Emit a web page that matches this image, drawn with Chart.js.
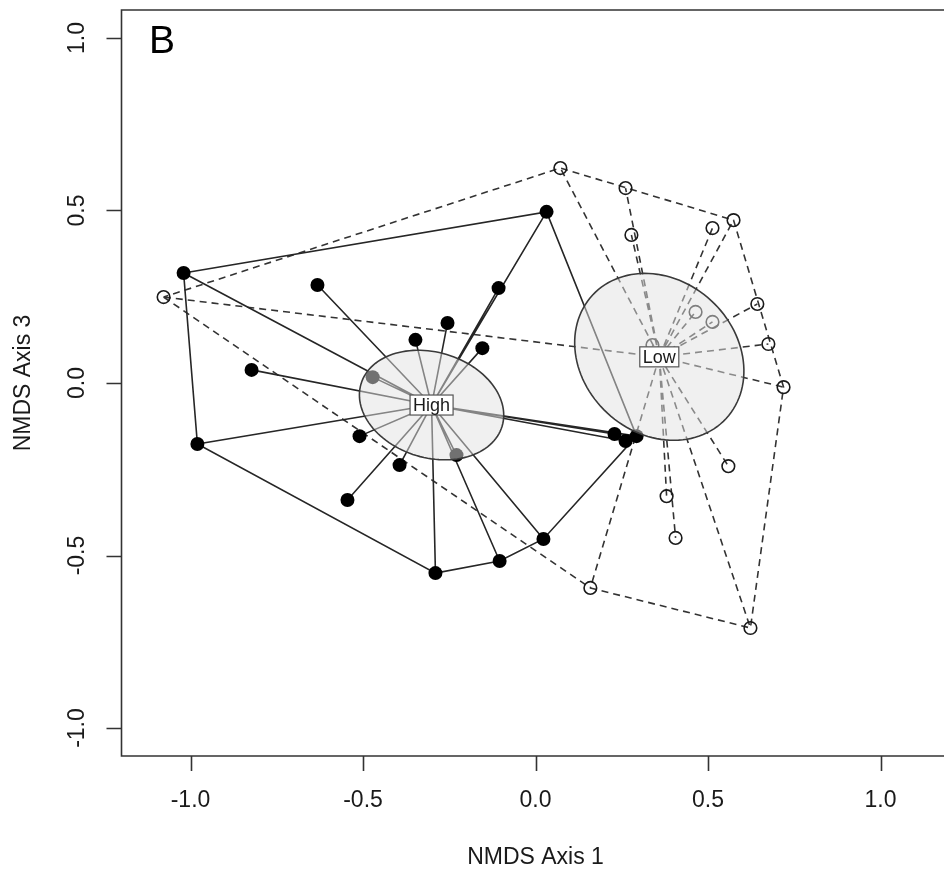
<!DOCTYPE html>
<html>
<head>
<meta charset="utf-8">
<title>NMDS B</title>
<script src="https://cdn.jsdelivr.net/npm/chart.js@4.4.1/dist/chart.umd.min.js"></script>
<style>
  html, body { margin: 0; padding: 0; background: #fff; overflow: hidden; }
  #wrap { position: absolute; left: 0; top: 0; width: 960px; height: 874px; }
</style>
</head>
<body>
<div id="wrap"><canvas id="nmds" width="960" height="874"></canvas></div>
<script>
// site scores
const groups = ['High', 'Low'];
const highX = [-1.020, -0.980, -0.823, -0.632, -0.510, -0.545, -0.394, -0.348, -0.255, -0.154,
               -0.107, 0.032, -0.472, -0.229, -0.290, -0.104, 0.023, 0.229, 0.261, 0.293];
const highY = [0.319, -0.177, 0.038, 0.284, -0.154, -0.339, -0.238, 0.125, 0.174, 0.101,
               0.275, 0.496, 0.017, -0.209, -0.551, -0.516, -0.452, -0.148, -0.168, -0.154];
const lowX = [-1.078, 0.072, 0.261, 0.278, 0.513, 0.574, 0.464, 0.513, 0.643, 0.675,
              0.719, 0.339, 0.559, 0.380, 0.406, 0.159, 0.623];
const lowY = [0.249, 0.623, 0.565, 0.429, 0.449, 0.472, 0.206, 0.177, 0.229, 0.113,
              -0.012, 0.110, -0.241, -0.328, -0.449, -0.594, -0.710];

const xTicks = [-1.0, -0.5, 0.0, 0.5, 1.0];
const xTickLabels = ['-1.0', '-0.5', '0.0', '0.5', '1.0'];
const yTicks = [-1.0, -0.5, 0.0, 0.5, 1.0];
const yTickLabels = ['-1.0', '-0.5', '0.0', '0.5', '1.0'];
const xTitle = 'NMDS Axis 1';
const yTitle = 'NMDS Axis 3';
const panelLetter = 'B';

const FONT = '"Liberation Sans", Arial, Helvetica, sans-serif';
const INK = '#1a1a1a';

function toPoints(xs, ys) {
    return xs.map((x, i) => ({ x: x, y: ys[i] }));
}

function centroid(pts) {
    let sx = 0, sy = 0;
    pts.forEach(p => { sx += p.x; sy += p.y; });
    return { x: sx / pts.length, y: sy / pts.length };
}

// convex hull, monotone chain
function hull(pts) {
    const p = pts.slice().sort((a, b) => a.x - b.x || a.y - b.y);
    const cross = (o, a, b) => (a.x - o.x) * (b.y - o.y) - (a.y - o.y) * (b.x - o.x);
    const lower = [], upper = [];
    for (const q of p) {
        while (lower.length >= 2 && cross(lower[lower.length - 2], lower[lower.length - 1], q) <= 0) lower.pop();
        lower.push(q);
    }
    for (let i = p.length - 1; i >= 0; i--) {
        const q = p[i];
        while (upper.length >= 2 && cross(upper[upper.length - 2], upper[upper.length - 1], q) <= 0) upper.pop();
        upper.push(q);
    }
    upper.pop();
    lower.pop();
    const h = lower.concat(upper);
    h.push(h[0]);
    return h;
}

// one segment centroid -> point for every site, broken by gaps
function spider(pts, c) {
    const out = [];
    pts.forEach(p => {
        out.push({ x: c.x, y: c.y });
        out.push(p);
        out.push({ x: p.x, y: null });
    });
    return out;
}

// standard error ellipse, 95% (like ordiellipse kind = "se")
function seEllipse(pts, c) {
    const n = pts.length;
    let sxx = 0, syy = 0, sxy = 0;
    pts.forEach(p => {
        const dx = p.x - c.x, dy = p.y - c.y;
        sxx += dx * dx; syy += dy * dy; sxy += dx * dy;
    });
    const a = sxx / (n - 1) / n, d = syy / (n - 1) / n, b = sxy / (n - 1) / n;
    const r = Math.sqrt(5.991465);
    const mid = (a + d) / 2, dif = Math.sqrt(((a - d) / 2) ** 2 + b * b);
    const l1 = mid + dif, l2 = Math.max(mid - dif, 0);
    const th = 0.5 * Math.atan2(2 * b, a - d);
    const out = [];
    for (let i = 0; i <= 120; i++) {
        const t = 2 * Math.PI * i / 120;
        const u = r * Math.sqrt(l1) * Math.cos(t), v = r * Math.sqrt(l2) * Math.sin(t);
        out.push({ x: c.x + u * Math.cos(th) - v * Math.sin(th), y: c.y + u * Math.sin(th) + v * Math.cos(th) });
    }
    return out;
}

const highPts = toPoints(highX, highY);
const lowPts = toPoints(lowX, lowY);
const highC = centroid(highPts);
const lowC = centroid(lowPts);
const groupInfo = [
    { name: groups[0], c: highC, ell: seEllipse(highPts, highC) },
    { name: groups[1], c: lowC, ell: seEllipse(lowPts, lowC) }
];

// ellipses are drawn over the points (semi transparent), then the group labels, then the axes
const rDecor = {
    id: 'rDecor',
    afterDatasetsDraw(chart) {
        const ctx = chart.ctx;
        const xs = chart.scales.x, ys = chart.scales.y;
        const area = chart.chartArea;

        groupInfo.forEach(g => {
            ctx.save();
            ctx.beginPath();
            g.ell.forEach((p, i) => {
                const px = xs.getPixelForValue(p.x), py = ys.getPixelForValue(p.y);
                if (i === 0) ctx.moveTo(px, py); else ctx.lineTo(px, py);
            });
            ctx.closePath();
            ctx.fillStyle = 'rgba(225,225,225,0.5)';
            ctx.fill();
            ctx.strokeStyle = '#3a3a3a';
            ctx.lineWidth = 1.6;
            ctx.stroke();
            ctx.restore();
        });

        groupInfo.forEach(g => {
            const cx = xs.getPixelForValue(g.c.x), cy = ys.getPixelForValue(g.c.y);
            ctx.save();
            ctx.font = '18px ' + FONT;
            const w = ctx.measureText(g.name).width + 6;
            const h = 20;
            ctx.fillStyle = '#fff';
            ctx.fillRect(cx - w / 2, cy - h / 2, w, h);
            ctx.strokeStyle = '#555';
            ctx.lineWidth = 1.2;
            ctx.strokeRect(cx - w / 2, cy - h / 2, w, h);
            ctx.fillStyle = INK;
            ctx.textAlign = 'center';
            ctx.textBaseline = 'middle';
            ctx.fillText(g.name, cx, cy + 1);
            ctx.restore();
        });

        ctx.save();
        ctx.strokeStyle = '#333';
        ctx.lineWidth = 1.6;
        ctx.beginPath();
        ctx.moveTo(chart.width, area.top);
        ctx.lineTo(area.left, area.top);
        ctx.lineTo(area.left, area.bottom);
        ctx.lineTo(chart.width, area.bottom);
        ctx.stroke();

        // ticks
        ctx.beginPath();
        xTicks.forEach(v => {
            const px = Math.round(xs.getPixelForValue(v)) + 0.5;
            ctx.moveTo(px, area.bottom);
            ctx.lineTo(px, area.bottom + 15);
        });
        yTicks.forEach(v => {
            const py = Math.round(ys.getPixelForValue(v)) + 0.5;
            ctx.moveTo(area.left, py);
            ctx.lineTo(area.left - 15, py);
        });
        ctx.stroke();

        ctx.fillStyle = INK;
        ctx.font = '23px ' + FONT;
        ctx.textAlign = 'center';
        ctx.textBaseline = 'middle';
        xTicks.forEach((v, i) => {
            ctx.fillText(xTickLabels[i], xs.getPixelForValue(v), area.bottom + 45);
        });
        yTicks.forEach((v, i) => {
            ctx.save();
            ctx.translate(area.left - 44, ys.getPixelForValue(v));
            ctx.rotate(-Math.PI / 2);
            ctx.fillText(yTickLabels[i], 0, 0);
            ctx.restore();
        });

        ctx.fillText(xTitle, (area.left + area.right) / 2, 858);
        ctx.save();
        ctx.translate(24, (area.top + area.bottom) / 2);
        ctx.rotate(-Math.PI / 2);
        ctx.fillText(yTitle, 0, 0);
        ctx.restore();

        ctx.fillStyle = '#000';
        ctx.font = '39px ' + FONT;
        ctx.textAlign = 'left';
        ctx.textBaseline = 'alphabetic';
        ctx.fillText(panelLetter, 149, 53);
        ctx.restore();
    }
};

const ctx = document.getElementById('nmds');
const nmdsChart = new Chart(ctx, {
    type: 'scatter',
    data: {
        datasets: [
            {
                label: 'High',
                data: highPts,
                pointRadius: 7,
                pointBackgroundColor: '#000',
                pointBorderColor: '#000',
                pointBorderWidth: 0,
                showLine: false
            },
            {
                label: 'Low',
                data: lowPts,
                pointRadius: 6.3,
                pointBackgroundColor: 'rgba(0,0,0,0)',
                pointBorderColor: '#1a1a1a',
                pointBorderWidth: 1.6,
                showLine: false
            },
            {
                label: 'High spider',
                data: spider(highPts, highC),
                showLine: true,
                spanGaps: false,
                borderColor: '#262626',
                borderWidth: 1.6,
                pointRadius: 0
            },
            {
                label: 'Low spider',
                data: spider(lowPts, lowC),
                showLine: true,
                spanGaps: false,
                borderColor: '#333',
                borderWidth: 1.6,
                borderDash: [7, 5],
                pointRadius: 0
            },
            {
                label: 'High hull',
                data: hull(highPts),
                showLine: true,
                borderColor: '#262626',
                borderWidth: 1.6,
                pointRadius: 0
            },
            {
                label: 'Low hull',
                data: hull(lowPts),
                showLine: true,
                borderColor: '#333',
                borderWidth: 1.6,
                borderDash: [7, 5],
                pointRadius: 0
            }
        ]
    },
    options: {
        responsive: false,
        animation: false,
        events: [],
        layout: {
            padding: { left: 121.5, top: 10, right: 10.5, bottom: 118 }
        },
        scales: {
            x: { type: 'linear', min: -1.2, max: 1.2, display: false },
            y: { type: 'linear', min: -1.081, max: 1.081, display: false }
        },
        plugins: {
            legend: { display: false },
            tooltip: { enabled: false }
        }
    },
    plugins: [rDecor]
});
</script>
</body>
</html>
